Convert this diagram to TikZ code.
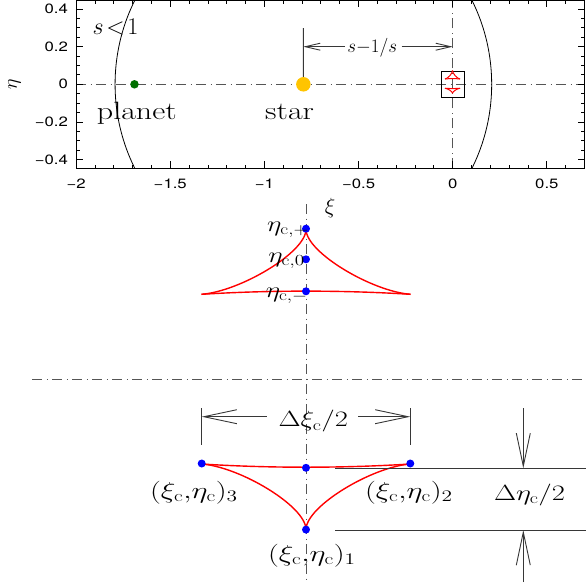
\RequirePackage{fix-cm}
\documentclass[tikz,border=0pt]{standalone}
\usepackage{fontspec}
\newfontfamily\tickfont{TeX Gyre Heros}
\usetikzlibrary{arrows.meta}
\definecolor{starc}{RGB}{255,196,0}
\definecolor{planetc}{RGB}{0,112,0}
\definecolor{dotblue}{RGB}{0,0,255}
\definecolor{dimc}{RGB}{55,55,55}
\definecolor{dashc}{RGB}{85,85,85}
\newcommand{\hs}[2][1.3]{\scalebox{#1}[1]{#2}}
\tikzset{
  dashdot/.style={draw=dashc, line width=0.9pt, dash pattern=on 10pt off 4.5pt on 1pt off 4.5pt},
  dimline/.style={draw=dimc, line width=0.9pt},
  bigbarb/.style={-{Straight Barb[length=33pt,width=14pt]}},
  smallbarb/.style={-{Straight Barb[length=15pt,width=7pt]}},
  caus/.style={draw=red, line width=1.4pt},
  smallcaus/.style={draw=red, line width=1pt},
  bdot/.style={circle, fill=dotblue, inner sep=0pt, minimum size=8pt},
  ticklab/.style={inner sep=0pt, font=\tickfont\fontsize{13.5}{16}\selectfont},
  lab/.style={inner sep=0pt, font=\fontsize{22}{26}\selectfont},
  ptlab/.style={inner sep=0pt, anchor=base, font=\fontsize{23}{27}\selectfont},
  etalab/.style={inner sep=0pt, anchor=base east, font=\fontsize{22}{26}\selectfont},
  wordlab/.style={inner sep=0pt, anchor=base west, font=\fontsize{25}{30}\selectfont},
  tickl/.style={line width=0.8pt},
}
\begin{document}
\begin{tikzpicture}[x=1pt,y=-1pt]
\useasboundingbox (0,0) rectangle (586,584);

% ---------------- top plot ----------------
\begin{scope}[shift={(452.7,84.3)},x=188.3pt,y=188.3pt]
  \draw[dashdot] (-2,0) -- (0.7,0);
  \draw[dashdot] (0,-0.447) -- (0,0.447);
  \begin{scope}
    \clip (-2,-0.447) rectangle (0.7,0.447);
    \draw[line width=0.8pt] (-0.793,0) circle[radius=1];
  \end{scope}
  % ticks
  \foreach \i in {-20,...,7} {
    \draw[tickl] (\i/10,-0.447) -- ++(0pt,3.5pt);
    \draw[tickl] (\i/10,0.447) -- ++(0pt,-3.5pt);
  }
  \foreach \v in {-2,-1.5,-1,-0.5,0,0.5} {
    \draw[tickl] (\v,-0.447) -- ++(0pt,7pt);
    \draw[tickl] (\v,0.447) -- ++(0pt,-7pt);
  }
  \foreach \j in {-8,...,8} {
    \draw[tickl] (-2,\j/20) -- ++(3.5pt,0pt);
    \draw[tickl] (0.7,\j/20) -- ++(-3.5pt,0pt);
  }
  \foreach \v in {-0.4,-0.2,0,0.2,0.4} {
    \draw[tickl] (-2,\v) -- ++(7pt,0pt);
    \draw[tickl] (0.7,\v) -- ++(-7pt,0pt);
  }
  \draw[line width=1.1pt] (-2,-0.447) rectangle (0.7,0.447);
  % tick labels
  \foreach \v/\t in {-2/{−2},-1.5/{−1.5},-1/{−1},-0.5/{−0.5},0/{0},0.5/{0.5}} {
    \node[ticklab] at (\v,-0.447) [yshift=-15.5pt] {\hs[1.24]{\t}};
  }
  \foreach \v/\t in {-0.4/{−0.4},-0.2/{−0.2},0/{0},0.2/{0.2},0.4/{0.4}} {
    \node[ticklab, anchor=east] at (-2,\v) [xshift=-8pt] {\hs[1.24]{\t}};
  }
  % bodies
  \node[circle, fill=planetc, inner sep=0pt, minimum size=8.5pt] (planet) at (-1.69,0) {};
  \node[circle, fill=starc, inner sep=0pt, minimum size=14.5pt] (star) at (-0.793,0) {};
\end{scope}

% axis titles
\node[font=\fontsize{20}{24}\selectfont, rotate=90, inner sep=0pt] (etaax) at (14.5,84) {$\eta$};
\node[font=\fontsize{22}{26}\selectfont, inner sep=0pt] (xiax) at (330,208) {$\xi$};

% texts in plot
\node[inner sep=0pt, anchor=base west, font=\fontsize{24}{28}\selectfont] (scond) at (92.5,34) {$s\!<\!1$};
\node[wordlab] (plab) at (96.7,119.3) {\hs[1.28]{planet}};
\node[wordlab] (slab) at (265,119.3) {\hs[1.28]{star}};

% s - 1/s dimension
\coordinate (sa) at (303.3,28);
\coordinate (sL) at (303.3,46.7);
\coordinate (sl) at (345,46.7);
\coordinate (sr) at (401.7,46.7);
\coordinate (sR) at (452.7,46.7);
\draw[dimline] (star.north) -- (sa);
\draw[dimline, smallbarb] (sl) -- (sL);
\draw[dimline, smallbarb] (sr) -- (sR);
\node[inner sep=0pt, anchor=base, font=\fontsize{19}{23}\selectfont] (sdist) at (372.3,52.7) {$s{-}1/s$};

% small box with the two caustics
\draw[line width=0.9pt] (441.7,71) rectangle (464.3,97.7);
\begin{scope}[shift={(452.5,79)}, xscale=7.5, yscale=8.5]
  \draw[smallcaus] (-1,0) .. controls (-0.35,-0.065) and (0.35,-0.065) .. (1,0);
  \draw[smallcaus] (-1,0) .. controls (-0.63,-0.045) and (0,-0.645) .. (0,-1);
  \draw[smallcaus] (1,0) .. controls (0.63,-0.045) and (0,-0.645) .. (0,-1);
\end{scope}
\begin{scope}[shift={(452.5,88.3)}, xscale=7.5, yscale=-5]
  \draw[smallcaus] (-1,0) .. controls (-0.35,-0.065) and (0.35,-0.065) .. (1,0);
  \draw[smallcaus] (-1,0) .. controls (-0.63,-0.045) and (0,-0.645) .. (0,-1);
  \draw[smallcaus] (1,0) .. controls (0.63,-0.045) and (0,-0.645) .. (0,-1);
\end{scope}

% ---------------- enlarged caustics ----------------
\coordinate (vtop) at (306,204);
\coordinate (vbot) at (306,584);
\coordinate (hl) at (32.3,379.3);
\coordinate (hr) at (586,379.3);
\draw[dashdot] (vtop) -- (vbot);
\draw[dashdot] (hl) -- (hr);

% upper caustic
\begin{scope}[shift={(306,294.3)}, xscale=104.5, yscale=65]
  \draw[caus] (-1,0) .. controls (-0.35,-0.065) and (0.35,-0.065) .. (1,0);
  \draw[caus] (-1,0) .. controls (-0.63,-0.045) and (0,-0.645) .. (0,-1);
  \draw[caus] (1,0) .. controls (0.63,-0.045) and (0,-0.645) .. (0,-1);
\end{scope}
\node[bdot] (etap) at (306,228.7) {};
\node[bdot] (eta0) at (306,259.3) {};
\node[bdot] (etam) at (306,291.3) {};
\node[etalab] (letap) at (309,231.5) {\hs[1.25]{$\eta_{\mathrm{c},+}$}};
\node[etalab] (leta0) at (305,262) {\hs[1.25]{$\eta_{\mathrm{c},0}$}};
\node[etalab] (letam) at (308,297) {\hs[1.25]{$\eta_{\mathrm{c},-}$}};

% lower caustic
\begin{scope}[shift={(306,464)}, xscale=104.3, yscale=-65.6]
  \draw[caus] (-1,0) .. controls (-0.35,-0.065) and (0.35,-0.065) .. (1,0);
  \draw[caus] (-1,0) .. controls (-0.63,-0.045) and (0,-0.645) .. (0,-1);
  \draw[caus] (1,0) .. controls (0.63,-0.045) and (0,-0.645) .. (0,-1);
\end{scope}
\node[bdot] (c3) at (201.7,463.5) {};
\node[bdot] (cm) at (306,467.8) {};
\node[bdot] (c2) at (410.3,463.5) {};
\node[bdot] (c1) at (306,529.6) {};
\node[ptlab] (l3) at (194,498) {\hs[1.33]{$(\xi_{\mathrm{c}}{,}\eta_{\mathrm{c}})_3$}};
\node[ptlab] (l2) at (409,498) {\hs[1.33]{$(\xi_{\mathrm{c}}{,}\eta_{\mathrm{c}})_2$}};
\node[ptlab] (l1) at (312,561.5) {\hs[1.33]{$(\xi_{\mathrm{c}}{,}\eta_{\mathrm{c}})_1$}};

% Delta xi dimension
\coordinate (bl1) at (201.7,408);
\coordinate (bl2) at (201.7,445);
\coordinate (br1) at (410.3,408);
\coordinate (br2) at (410.3,445);
\coordinate (al) at (201.7,416.7);
\coordinate (alin) at (266.7,416.7);
\coordinate (ar) at (410.3,416.7);
\coordinate (arin) at (358.3,416.7);
\draw[dimline] (bl1) -- (bl2);
\draw[dimline] (br1) -- (br2);
\draw[dimline, bigbarb] (alin) -- (al);
\draw[dimline, bigbarb] (arin) -- (ar);
\node[lab, anchor=base] (dxi) at (313.3,426.7) {\hs[1.3]{$\Delta\xi_{\mathrm{c}}/2$}};

% Delta eta dimension
\coordinate (h1l) at (335,468.3);
\coordinate (h1r) at (586,468.3);
\coordinate (h2l) at (335,530);
\coordinate (h2r) at (586,530);
\coordinate (vt0) at (523.3,408);
\coordinate (vt1) at (523.3,468.3);
\coordinate (vb0) at (523.3,582);
\coordinate (vb1) at (523.3,530);
\draw[dimline] (h1l) -- (h1r);
\draw[dimline] (h2l) -- (h2r);
\draw[dimline, bigbarb] (vt0) -- (vt1);
\draw[dimline, bigbarb] (vb0) -- (vb1);
\node[lab, anchor=base] (deta) at (529.5,500) {\hs[1.3]{$\Delta\eta_{\mathrm{c}}/2$}};
\end{tikzpicture}
\end{document}
